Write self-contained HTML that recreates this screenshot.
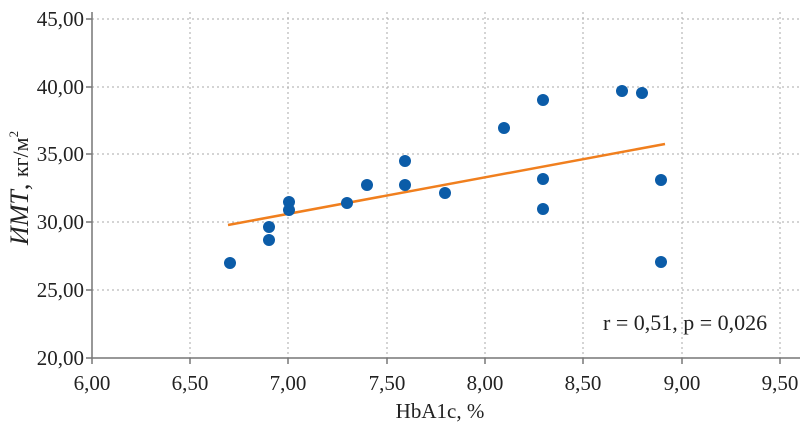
<!DOCTYPE html>
<html><head><meta charset="utf-8"><style>body{margin:0;background:#fff}svg{display:block}</style></head><body>
<svg width="800" height="430" xmlns="http://www.w3.org/2000/svg" font-family="Liberation Serif, serif" font-size="21" fill="#222">
<g stroke="#aaa" stroke-width="1" stroke-dasharray="2,3">
<line x1="92" y1="19" x2="800" y2="19"/><line x1="92" y1="87" x2="800" y2="87"/><line x1="92" y1="154" x2="800" y2="154"/><line x1="92" y1="222" x2="800" y2="222"/><line x1="92" y1="290" x2="800" y2="290"/>
<line x1="190" y1="12" x2="190" y2="358"/><line x1="288" y1="12" x2="288" y2="358"/><line x1="387" y1="12" x2="387" y2="358"/><line x1="485" y1="12" x2="485" y2="358"/><line x1="583" y1="12" x2="583" y2="358"/><line x1="682" y1="12" x2="682" y2="358"/><line x1="780" y1="12" x2="780" y2="358"/>
</g>
<g stroke="#777" stroke-width="1.5">
<line x1="92" y1="12" x2="92" y2="358"/><line x1="86" y1="358" x2="800" y2="358"/>
<line x1="86" y1="19" x2="92" y2="19"/><line x1="86" y1="87" x2="92" y2="87"/><line x1="86" y1="154" x2="92" y2="154"/><line x1="86" y1="222" x2="92" y2="222"/><line x1="86" y1="290" x2="92" y2="290"/>
<line x1="92" y1="358" x2="92" y2="364"/><line x1="190" y1="358" x2="190" y2="364"/><line x1="288" y1="358" x2="288" y2="364"/><line x1="387" y1="358" x2="387" y2="364"/><line x1="485" y1="358" x2="485" y2="364"/><line x1="583" y1="358" x2="583" y2="364"/><line x1="682" y1="358" x2="682" y2="364"/><line x1="780" y1="358" x2="780" y2="364"/>
</g>
<g text-anchor="end">
<text x="84" y="26">45,00</text><text x="84" y="94">40,00</text><text x="84" y="161">35,00</text><text x="84" y="229">30,00</text><text x="84" y="297">25,00</text><text x="84" y="365">20,00</text>
</g>
<g text-anchor="middle">
<text x="92" y="390">6,00</text><text x="190" y="390">6,50</text><text x="288" y="390">7,00</text><text x="387" y="390">7,50</text><text x="485" y="390">8,00</text><text x="583" y="390">8,50</text><text x="682" y="390">9,00</text><text x="780" y="390">9,50</text>
<text x="440" y="418">HbA1c, %</text>
<text transform="translate(28,188) rotate(-90)" font-size="26"><tspan font-style="italic">ИМТ</tspan>, <tspan font-size="22">кг/м</tspan><tspan font-size="13" dy="-10">2</tspan></text>
</g>
<text x="603" y="330" font-size="22">r = 0,51, p = 0,026</text>
<line x1="228" y1="225" x2="665" y2="144" stroke="#f07f1e" stroke-width="2.5"/>
<g fill="#0b5ca8">
<circle cx="230" cy="263" r="6"/><circle cx="269" cy="227" r="6"/><circle cx="269" cy="240" r="6"/><circle cx="289" cy="202" r="6"/><circle cx="289" cy="210" r="6"/><circle cx="347" cy="203" r="6"/><circle cx="367" cy="185" r="6"/><circle cx="405" cy="161" r="6"/><circle cx="405" cy="185" r="6"/><circle cx="445" cy="193" r="6"/><circle cx="504" cy="128" r="6"/><circle cx="543" cy="100" r="6"/><circle cx="543" cy="179" r="6"/><circle cx="543" cy="209" r="6"/><circle cx="622" cy="91" r="6"/><circle cx="642" cy="93" r="6"/><circle cx="661" cy="180" r="6"/><circle cx="661" cy="262" r="6"/>
</g>
</svg>
</body></html>
